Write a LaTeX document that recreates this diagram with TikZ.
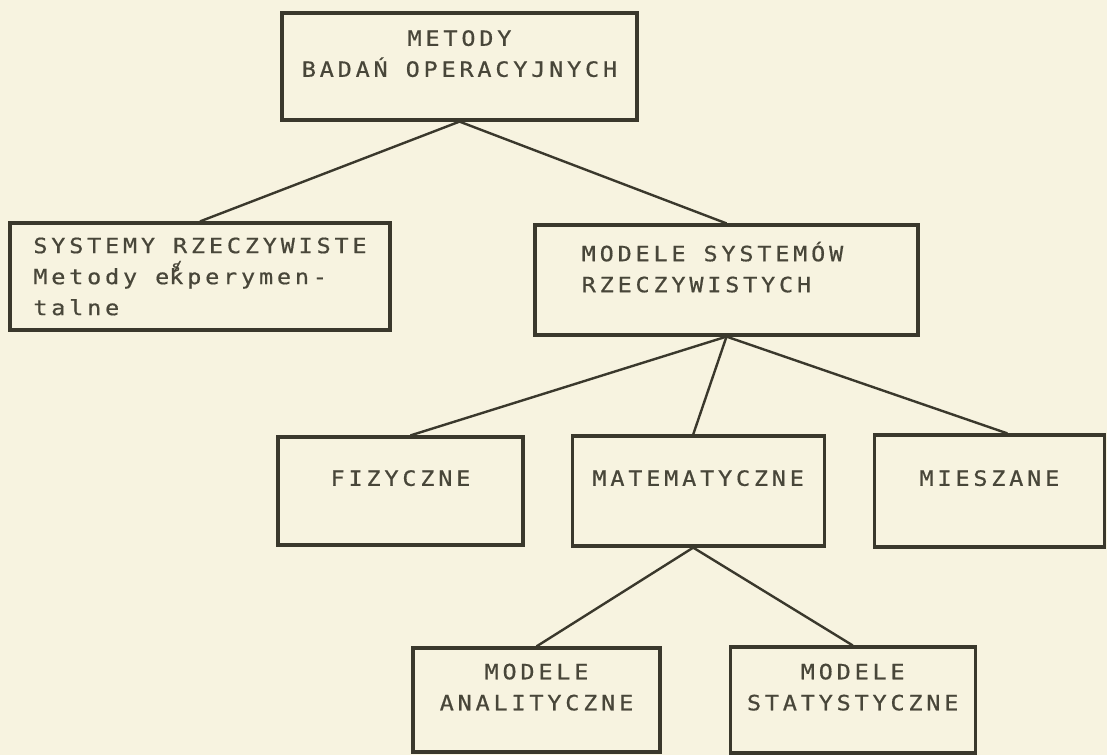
\documentclass[tikz,border=0pt]{standalone}
\usepackage{fontspec}
\usepackage{xcolor}
\usepackage{tikz}
\usetikzlibrary{positioning}
\newfontfamily\typewriter[FakeStretch=1.12,LetterSpace=18,FakeBold=0.6]{DejaVu Sans Mono}
\definecolor{paper}{RGB}{247,243,224}
\definecolor{ink}{RGB}{58,56,44}
\definecolor{typeink}{RGB}{72,70,57}
\newcommand{\insertmark}{\makebox[0pt][l]{\raisebox{13pt}{\fontsize{14}{14}\selectfont\hspace{2pt}s\kern-8pt/}}}
\tikzset{
    methodbox/.style={rectangle, draw=ink, line width=3.2pt, inner sep=0pt,
        text=typeink, align=center, font=\typewriter\fontsize{21}{31}\selectfont},
    raised/.style={text depth=26pt},
    treeline/.style={draw=ink, line width=2.4pt},
}

\begin{document}
\begin{tikzpicture}[x=1pt, y=-1pt]
    \fill[paper] (0,0) rectangle (1107,755);
    \useasboundingbox (0,0) rectangle (1107,755);

    % upper part of the tree
    \node[methodbox, raised, minimum width=355pt, minimum height=107pt] (metody) at (459.5,66.5)
        {METODY\\BADAŃ OPERACYJNYCH};
    \node[methodbox, align=left, minimum width=380pt, minimum height=107pt] (systemy) at (200,276.5)
        {SYSTEMY RZECZYWISTE\\Metody e\insertmark kperymen-\\talne};
    \node[methodbox, raised, align=left, minimum width=383pt, minimum height=110pt] (modele) at (726.5,280)
        {MODELE SYSTEMÓW\hspace*{28pt}\\RZECZYWISTYCH};

    % kinds of models
    \node[methodbox, raised, minimum width=245pt, minimum height=108pt] (fizyczne) at (400.5,491) {FIZYCZNE};
    \node[methodbox, raised, minimum width=252pt, minimum height=110pt, right=46pt of fizyczne] (matematyczne) {MATEMATYCZNE};
    \node[methodbox, raised, minimum width=230pt, minimum height=112pt, right=47pt of matematyczne] (mieszane) {MIESZANE};

    \node[methodbox, raised, minimum width=247pt, minimum height=104pt] (analityczne) at (536.5,700)
        {MODELE\\ANALITYCZNE};
    \node[methodbox, raised, minimum width=245pt, minimum height=106pt, right=67pt of analityczne] (statystyczne)
        {MODELE\\STATYSTYCZNE};

    \draw[treeline] (metody.south) -- (systemy.north);
    \draw[treeline] (metody.south) -- (modele.north);
    \draw[treeline] (modele.south) -- ([xshift=10pt]fizyczne.north);
    \draw[treeline] (modele.south) -- ([xshift=-5pt]matematyczne.north);
    \draw[treeline] (modele.south) -- ([xshift=18pt]mieszane.north);
    \draw[treeline] ([xshift=-5pt]matematyczne.south) -- (analityczne.north);
    \draw[treeline] ([xshift=-5pt]matematyczne.south) -- (statystyczne.north);
\end{tikzpicture}
\end{document}
